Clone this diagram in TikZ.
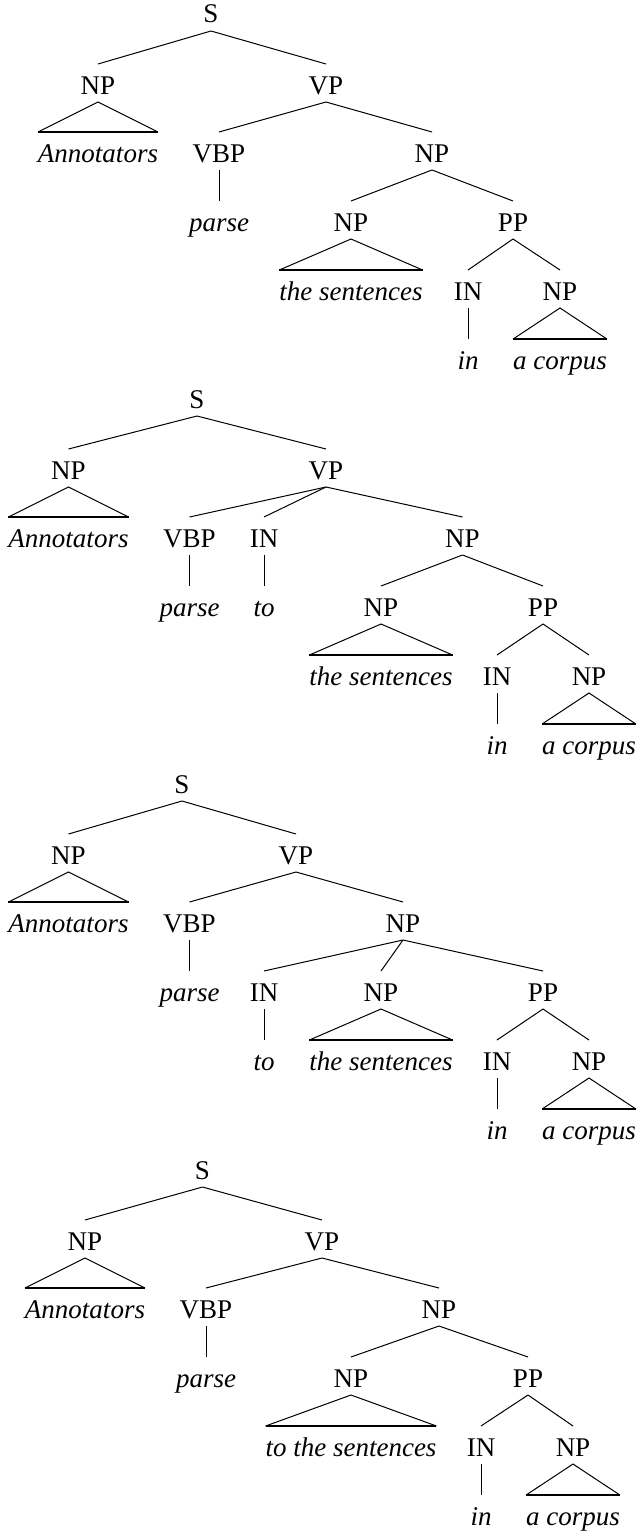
\documentclass[tikz,border=0pt]{standalone}
\usepackage{fontspec}
\setmainfont{Liberation Serif}
\newcommand{\treefont}{\fontsize{13.5}{16}\selectfont}
\tikzset{
  cat/.style={anchor=base,inner sep=0pt,outer sep=0pt,text height=15pt,text depth=4pt,font=\treefont},
  word/.style={cat,font=\treefont\itshape},
  branch/.style={line width=0.5pt},
  roofbase/.style={line width=0.95pt}
}
\begin{document}
\begin{tikzpicture}[x=0.5pt,y=-0.5pt]
  \useasboundingbox (0,0) rectangle (637,1531);
  % erste Analyse
  \node[cat] (aS) at (211,23) {S};
  \node[cat] (aNP) at (98,94) {NP};
  \node[cat] (aVP) at (326,94) {VP};
  \node[word] (aAnn) at (98,162) {Annotators};
  \node[cat] (aVBP) at (219,162) {VBP};
  \node[cat] (aNPo) at (432,162) {NP};
  \node[word] (aparse) at (219,231) {parse};
  \node[cat] (aNPs) at (351,231) {NP};
  \node[cat] (aPP) at (513,231) {PP};
  \node[word] (asent) at (351,300) {the sentences};
  \node[cat] (aIN) at (468,300) {IN};
  \node[cat] (aNPc) at (560,300) {NP};
  \node[word] (ain) at (468,369) {in};
  \node[word] (acorp) at (560,369) {a corpus};
  % zweite Analyse
  \begin{scope}[shift={(0,385)}]
    \node[cat] (bS) at (197,23) {S};
    \node[cat] (bNP) at (68.5,94) {NP};
    \node[cat] (bVP) at (326,94) {VP};
    \node[word] (bAnn) at (68.5,162) {Annotators};
    \node[cat] (bVBP) at (189.5,162) {VBP};
    \node[cat] (bINt) at (264,162) {IN};
    \node[cat] (bNPo) at (462.5,162) {NP};
    \node[word] (bparse) at (189.5,231) {parse};
    \node[word] (bto) at (264,231) {to};
    \node[cat] (bNPs) at (381,231) {NP};
    \node[cat] (bPP) at (543,231) {PP};
    \node[word] (bsent) at (381,300) {the sentences};
    \node[cat] (bIN) at (497,300) {IN};
    \node[cat] (bNPc) at (589,300) {NP};
    \node[word] (bin) at (497,369) {in};
    \node[word] (bcorp) at (589,369) {a corpus};
  \end{scope}
  % dritte Analyse
  \begin{scope}[shift={(0,770)}]
    \node[cat] (cS) at (182,23) {S};
    \node[cat] (cNP) at (68.5,94) {NP};
    \node[cat] (cVP) at (296,94) {VP};
    \node[word] (cAnn) at (68.5,162) {Annotators};
    \node[cat] (cVBP) at (189.5,162) {VBP};
    \node[cat] (cNPo) at (403,162) {NP};
    \node[word] (cparse) at (189.5,231) {parse};
    \node[cat] (cINt) at (264,231) {IN};
    \node[cat] (cNPs) at (381,231) {NP};
    \node[cat] (cPP) at (543,231) {PP};
    \node[word] (cto) at (264,300) {to};
    \node[word] (csent) at (381,300) {the sentences};
    \node[cat] (cIN) at (497,300) {IN};
    \node[cat] (cNPc) at (589,300) {NP};
    \node[word] (cin) at (497,369) {in};
    \node[word] (ccorp) at (589,369) {a corpus};
  \end{scope}
  % vierte Analyse
  \begin{scope}[shift={(0,1156)}]
    \node[cat] (dS) at (202.5,23) {S};
    \node[cat] (dNP) at (85,94) {NP};
    \node[cat] (dVP) at (322,94) {VP};
    \node[word] (dAnn) at (85,162) {Annotators};
    \node[cat] (dVBP) at (206,162) {VBP};
    \node[cat] (dNPo) at (439,162) {NP};
    \node[word] (dparse) at (206,231) {parse};
    \node[cat] (dNPs) at (351,231) {NP};
    \node[cat] (dPP) at (528,231) {PP};
    \node[word] (dsent) at (351,300) {to the sentences};
    \node[cat] (dIN) at (481,300) {IN};
    \node[cat] (dNPc) at (573,300) {NP};
    \node[word] (din) at (481,369) {in};
    \node[word] (dcorp) at (573,369) {a corpus};
  \end{scope}
  % Kanten
  \foreach \p/\c in {aS/aNP,aS/aVP,aVP/aVBP,aVP/aNPo,aVBP/aparse,aNPo/aNPs,aNPo/aPP,aPP/aIN,aPP/aNPc,aIN/ain,
                     bS/bNP,bS/bVP,bVP/bVBP,bVP/bINt,bVP/bNPo,bVBP/bparse,bINt/bto,bNPo/bNPs,bNPo/bPP,bPP/bIN,bPP/bNPc,bIN/bin,
                     cS/cNP,cS/cVP,cVP/cVBP,cVP/cNPo,cVBP/cparse,cNPo/cINt,cNPo/cNPs,cNPo/cPP,cINt/cto,cPP/cIN,cPP/cNPc,cIN/cin,
                     dS/dNP,dS/dVP,dVP/dVBP,dVP/dNPo,dVBP/dparse,dNPo/dNPs,dNPo/dPP,dPP/dIN,dPP/dNPc,dIN/din}
    \draw[branch] (\p.south) -- (\c.north);
  % Dreiecke
  \foreach \p/\c in {aNP/aAnn,aNPs/asent,aNPc/acorp,bNP/bAnn,bNPs/bsent,bNPc/bcorp,
                     cNP/cAnn,cNPs/csent,cNPc/ccorp,dNP/dAnn,dNPs/dsent,dNPc/dcorp} {
    \draw[branch] (\c.north west) -- (\p.south) -- (\c.north east);
    \draw[roofbase] (\c.north west) -- (\c.north east);
  }
\end{tikzpicture}
\end{document}
